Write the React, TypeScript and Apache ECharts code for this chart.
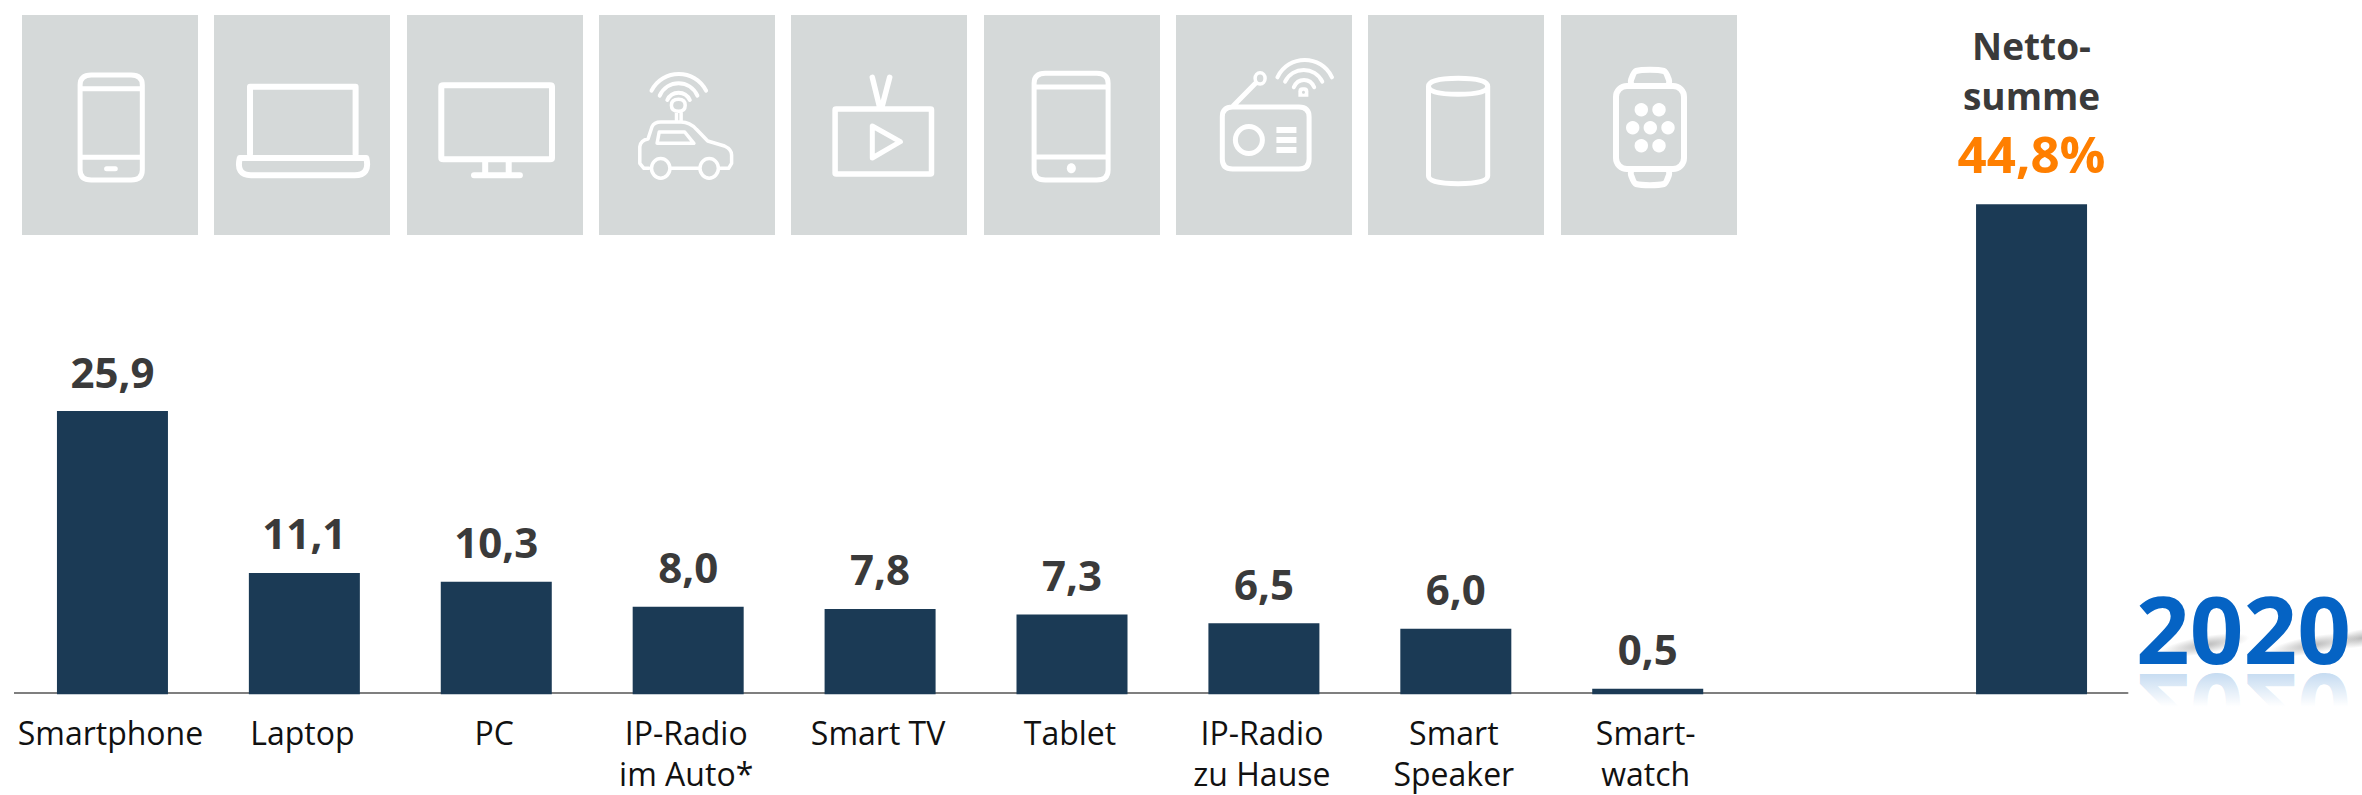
import React, { useEffect, useRef } from "react";
import * as echarts from "echarts";

const categories = ["Smartphone", "Laptop", "PC", "IP-Radio\nim Auto*", "Smart TV", "Tablet", "IP-Radio\nzu Hause", "Smart\nSpeaker", "Smart-\nwatch", "", ""];
const values: (number | null)[] = [25.9, 11.1, 10.3, 8.0, 7.8, 7.3, 6.5, 6.0, 0.5, null, 44.8];
const netTitle = ["Netto-", "summe"];
const netValue = "44,8%";
const yearText = "2020";
const tileLeft = [22, 214, 407, 599, 791, 984, 1176, 1368, 1561];

const FONT = "Open Sans";
const STROKE = "#ffffff";

// converts path coordinates measured on the stretched crops to page pixels
function Z(d: string, ox: number): string {
  let i = 0;
  return d.replace(/-?\d+(\.\d+)?/g, (m) => {
    const v = +m;
    const r = i % 2 === 0 ? ox + v / 1.96 : v / 3;
    i++;
    return r.toFixed(1);
  });
}
function rr(x0: number, y0: number, x1: number, y1: number, rx: number, ry: number) {
  return `M ${x0 + rx} ${y0} L ${x1 - rx} ${y0} Q ${x1} ${y0} ${x1} ${y0 + ry} L ${x1} ${y1 - ry} Q ${x1} ${y1} ${x1 - rx} ${y1} L ${x0 + rx} ${y1} Q ${x0} ${y1} ${x0} ${y1 - ry} L ${x0} ${y0 + ry} Q ${x0} ${y0} ${x0 + rx} ${y0} Z`;
}
function wave(x0: number, y: number, x1: number, peak: number) {
  const w = x1 - x0;
  const c = y - (y - peak) * 4 / 3;
  return `M ${x0} ${y} C ${x0 + 0.2 * w} ${c} ${x1 - 0.2 * w} ${c} ${x1} ${y}`;
}

const iconPaths: { d: string; lw: number; fill?: boolean }[] = [
  // phone
  { lw: 5, d: Z(rr(157, 225, 279, 540, 22, 30) + " M 157 266 L 279 266 M 157 472 L 279 472 M 209 506 L 226 506", 0) },
  // laptop
  { lw: 6, d: Z("M 490 462 L 490 260 L 697 260 L 697 462 M 470 474 L 718 474 Q 726 526 695 526 L 492 526 Q 462 526 470 474 Z", 0) },
  // monitor
  { lw: 6, d: Z(rr(865, 256, 1082, 478, 4, 4) + " M 951 480 L 951 526 M 997 480 L 997 526 M 929 526 L 1019 526", 0) },
  // car
  { lw: 3.5, d: Z("M 1272 505 L 1262 505 L 1254 490 L 1254 440 Q 1256 420 1270 417 L 1278 380 Q 1282 366 1295 366 L 1335 366 Q 1352 366 1365 388 L 1387 423 L 1420 438 Q 1434 448 1434 465 L 1434 490 L 1428 505 L 1412 505 M 1316 505 L 1369 505 M 1292 396 L 1342 396 L 1360 430 L 1288 430 Z M 1326 335 L 1326 362 M 1335 335 L 1335 362 M 1316 316 Q 1316 298 1330 298 Q 1343 298 1343 316 Q 1343 334 1330 334 Q 1316 334 1316 316 Z", 0) },
  { lw: 4, d: Z(wave(1277, 272, 1384, 222) + " " + wave(1293, 287, 1367, 250) + " " + wave(1308, 300, 1352, 278), 0) },
  // tv
  { lw: 5.5, d: Z(rr(108, 327, 297, 522, 2, 2) + " M 181 232 L 195 320 M 215 232 L 200 320", 780) },
  { lw: 5, d: Z("M 181 378 L 181 474 L 236 425 Z", 780) },
  // tablet
  { lw: 5, d: Z(rr(498, 220, 643, 540, 22, 30) + " M 498 261 L 643 261 M 498 471 L 643 471", 780) },
  // radio
  { lw: 5, d: Z(rr(867, 321, 1037, 507, 20, 30) + " M 888 318 L 932 250", 780) },
  { lw: 4, d: Z(wave(975, 232, 1082, 180) + " " + wave(990, 245, 1063, 210) + " " + wave(1007, 262, 1047, 240), 780) },
  // speaker
  { lw: 5, d: Z("M 1271 259 Q 1271 235 1329 235 Q 1387 235 1387 259 Q 1387 283 1329 283 Q 1271 283 1271 259 Z M 1271 259 L 1271 528 Q 1271 551 1329 551 Q 1387 551 1387 528 L 1387 259", 780) },
];

function watchEllipse(cx: number, cy: number) {
  return { type: "circle", shape: { cx, cy, r: 6.7 }, style: { fill: STROKE }, silent: true };
}

function buildGraphic() {
  const els: any[] = [];
  tileLeft.forEach((x) => {
    els.push({ type: "rect", shape: { x, y: 15, width: 176, height: 220 }, style: { fill: "#d5d9d9" }, silent: true });
  });
  iconPaths.forEach((p, i) => {
    const name = "icon" + i;
    echarts.graphic.registerShape(name, echarts.graphic.extendPath(p.d, {}));
    els.push({ type: name, x: 0, y: 0, silent: true, style: { fill: "none", stroke: STROKE, lineWidth: p.lw, lineCap: "round", lineJoin: "round" } });
  });
  const ring = (cx: number, cy: number, rx: number, ry: number, lw: number) => ({
    type: "ellipse", shape: { cx, cy, rx, ry }, silent: true, style: { fill: "none", stroke: STROKE, lineWidth: lw },
  });
  // car wheels
  els.push(ring(1295 / 1.96, 505 / 3, 9.2, 9.8, 3.5), ring(1390 / 1.96, 505 / 3, 9.2, 9.8, 3.5));
  // tablet button
  els.push({ type: "ellipse", shape: { cx: 780 + 571 / 1.96, cy: 505 / 3, rx: 4.5, ry: 5 }, silent: true, style: { fill: STROKE } });
  // radio details
  els.push(ring(780 + 919 / 1.96, 420 / 3, 13.5, 13.5, 5));
  els.push(ring(780 + 941 / 1.96, 235 / 3, 5, 5.7, 3.5));
  [381, 411, 441].forEach((y) => {
    els.push({ type: "rect", shape: { x: 780 + 973 / 1.96, y: y / 3, width: 20, height: 6 }, silent: true, style: { fill: STROKE } });
  });
  els.push({ type: "rect", shape: { x: 780 + 1016 / 1.96, y: 262 / 3, width: 10, height: 9.5, r: [4, 4, 0, 0] }, silent: true, style: { fill: STROKE } });
  els.push({ type: "circle", shape: { cx: 780 + 1026 / 1.96, cy: 277 / 3, r: 1.5 }, silent: true, style: { fill: "#d5d9d9" } });
  // watch
  els.push({ type: "rect", shape: { x: 1616, y: 86, width: 68, height: 83, r: 11 }, silent: true, style: { fill: "none", stroke: STROKE, lineWidth: 6 } });
  els.push({ type: "polyline", silent: true, shape: { points: [[1631, 84], [1631, 80], [1636, 71], [1664, 71], [1669, 80], [1669, 84]], smooth: 0.25 }, style: { fill: "none", stroke: STROKE, lineWidth: 6 } });
  els.push({ type: "polyline", silent: true, shape: { points: [[1631, 171], [1631, 175], [1636, 184], [1664, 184], [1669, 175], [1669, 171]], smooth: 0.25 }, style: { fill: "none", stroke: STROKE, lineWidth: 6 } });
  [[1641.3, 109.7], [1659, 109.7], [1632.7, 127.7], [1650.3, 127.7], [1668, 127.7], [1641.3, 145.7], [1659, 145.7]].forEach(([a, b]) => els.push(watchEllipse(a, b)));
  // left stub of the axis line
  els.push({ type: "line", silent: true, shape: { x1: 14, y1: 693, x2: 17, y2: 693 }, style: { stroke: "#7f7f7f", lineWidth: 2 } });

  // year badge: soft shadow, reflection, text
  const smear = (x: number, y: number, rx: number) => ({
    type: "ellipse", silent: true, x, y, rotation: 0.17, shape: { cx: 0, cy: 0, rx, ry: 9 },
    style: { fill: { type: "radial", x: 0.5, y: 0.5, r: 0.5, colorStops: [{ offset: 0, color: "rgba(90,90,90,0.42)" }, { offset: 1, color: "rgba(90,90,90,0)" }] } },
  });
  els.push(smear(2205, 645, 45), smear(2313, 645, 45), smear(2362, 638, 32));
  els.push({
    type: "text", silent: true, x: 2243.5, y: 663, originY: 0, scaleY: -1, z: 10,
    style: { text: yearText, font: `bold 94px '${FONT}'`, fill: "rgba(5,99,196,0.3)", align: "center", verticalAlign: "bottom" },
  });
  els.push({
    type: "rect", silent: true, z: 11, shape: { x: 2132, y: 665, width: 230, height: 80 },
    style: { fill: { type: "linear", x: 0, y: 0, x2: 0, y2: 1, colorStops: [{ offset: 0, color: "rgba(255,255,255,0)" }, { offset: 0.52, color: "rgba(255,255,255,1)" }, { offset: 1, color: "rgba(255,255,255,1)" }] } },
  });
  els.push({
    type: "text", silent: true, x: 2243.5, y: 628, z: 12,
    style: { text: yearText, font: `bold 94px '${FONT}'`, fill: "#0563c4", align: "center", verticalAlign: "middle" },
  });
  return els;
}

export default function App() {
  const ref = useRef<HTMLDivElement>(null);
  useEffect(() => {
    document.body.style.margin = "0";
    const chart = echarts.init(ref.current!, undefined, { renderer: "svg" });
    chart.setOption({
      animation: false,
      backgroundColor: "#ffffff",
      grid: { left: 16.5, top: 147.4, width: 2111, height: 546.9, outerBoundsMode: "none" },
      xAxis: {
        type: "category",
        data: categories,
        offset: -1.3,
        axisLine: { lineStyle: { color: "#7f7f7f", width: 2 } },
        axisTick: { show: false },
        axisLabel: { interval: 0, fontFamily: FONT, fontSize: 32, lineHeight: 41, color: "#111111", margin: 19, padding: [0, 4, 0, 0], hideOverlap: false },
      },
      yAxis: { type: "value", min: 0, max: 50, show: false, splitLine: { show: false } },
      series: [
        {
          type: "bar",
          barWidth: 111,
          itemStyle: { color: "#1b3a55" },
          label: {
            show: true,
            position: "top",
            distance: 19,
            fontFamily: FONT,
            fontWeight: "bold",
            fontSize: 42,
            color: "#3a3a3a",
            formatter: (p: any) => Number(p.value).toFixed(1).replace(".", ","),
          },
          data: values.map((v, i) =>
            i === values.length - 1
              ? {
                  value: v,
                  label: {
                    distance: 18,
                    formatter: `{a|${netTitle[0]}}\n{a|${netTitle[1]}}\n{b|${netValue}}`,
                    rich: {
                      a: { fontFamily: FONT, fontWeight: "bold", fontSize: 37, lineHeight: 50, color: "#3a3a3a" },
                      b: { fontFamily: FONT, fontWeight: "bold", fontSize: 51, lineHeight: 66, color: "#ff7f00" },
                    },
                  },
                }
              : v
          ),
        },
      ],
      graphic: { elements: buildGraphic() },
    });
    return () => chart.dispose();
  }, []);
  return <div ref={ref} style={{ position: "absolute", left: 0, top: 0, width: 2362, height: 795, overflow: "hidden" }} />;
}
